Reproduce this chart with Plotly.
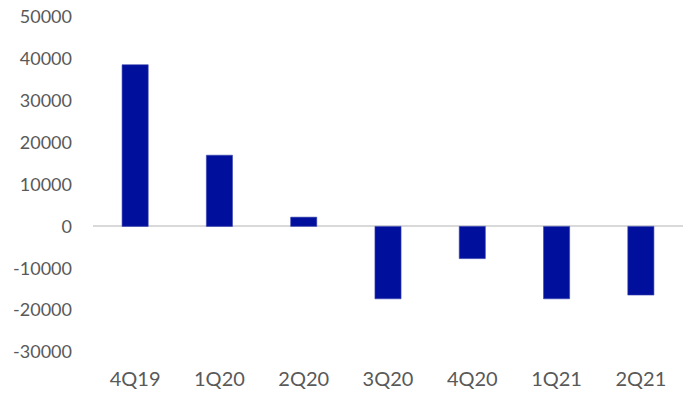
import plotly.graph_objects as go

quarters = ["4Q19", "1Q20", "2Q20", "3Q20", "4Q20", "1Q21", "2Q21"]
values = [38600, 17000, 2200, -17300, -7700, -17300, -16400]
y_ticks = [50000, 40000, 30000, 20000, 10000, 0, -10000, -20000, -30000]

fig = go.Figure(
    go.Bar(
        x=quarters,
        y=values,
        marker=dict(color="#000f9c", line=dict(color="#3a45b0", width=0.6)),
        width=0.31,
    )
)

fig.update_layout(
    width=688,
    height=394,
    margin=dict(l=93, r=5, t=17, b=42),
    paper_bgcolor="white",
    plot_bgcolor="white",
    showlegend=False,
    font=dict(family="Lato, 'Open Sans', sans-serif", size=18, color="#595959"),
)

fig.update_xaxes(
    showgrid=False,
    showline=False,
    zeroline=False,
    ticks="",
    tickfont=dict(size=20),
    ticklabelstandoff=13,
)

fig.update_yaxes(
    range=[-30000, 50000],
    tickvals=y_ticks,
    ticktext=[str(v) for v in y_ticks],
    showgrid=False,
    showline=False,
    zeroline=True,
    zerolinecolor="#d9d9d9",
    zerolinewidth=1.5,
    ticks="",
    ticklabelstandoff=20,
)

fig.write_html("out.html")
